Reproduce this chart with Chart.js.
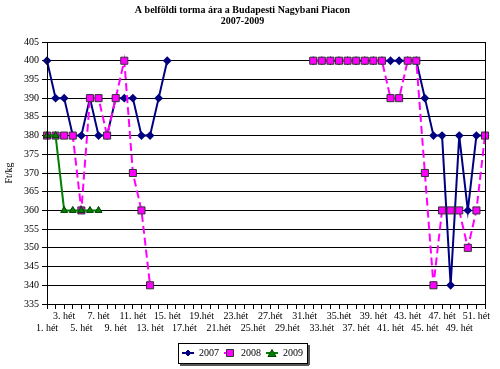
<!DOCTYPE html>
<html>
<head>
<meta charset="utf-8">
<title>Torma ára</title>
<script src="https://cdn.jsdelivr.net/npm/chart.js@4/dist/chart.umd.min.js"></script>
<style>
  html, body { margin: 0; padding: 0; background: #fff; }
  #wrap { width: 500px; height: 369px; }
</style>
</head>
<body>
<div id="wrap"><canvas id="tormaChart" width="500" height="369"></canvas></div>
<script>
// weeks 1..52 (labels as written in the original sheet)
const weeks = [
  "1. hét", "2. hét", "3. hét", "4. hét", "5. hét", "6. hét", "7. hét", "8. hét",
  "9. hét", "10. hét", "11. hét", "12. hét", "13. hét", "14. hét", "15. hét", "16.hét",
  "17.hét", "18.hét", "19.hét", "20.hét", "21.hét", "22.hét", "23.hét", "24.hét",
  "25.hét", "26.hét", "27.hét", "28.hét", "29.hét", "30.hét", "31.hét", "32.hét",
  "33.hét", "34.hét", "35.hét", "36.hét", "37. hét", "38. hét", "39. hét", "40. hét",
  "41. hét", "42. hét", "43. hét", "44. hét", "45. hét", "46. hét", "47. hét", "48. hét",
  "49. hét", "50. hét", "51. hét", "52. hét"
];

const price2007 = [
  400, 390, 390, 380, 380, 390, 380, 380, 390, 390, 390, 380, 380, 390, 400, null,
  null, null, null, null, null, null, null, null, null, null, null, null, null, null, null, 400,
  400, 400, 400, 400, 400, 400, 400, 400, 400, 400, 400, 400, 390, 380, 380, 340,
  380, 360, 380, 380
];

const price2008 = [
  380, 380, 380, 380, 360, 390, 390, 380, 390, 400, 370, 360, 340, null, null, null,
  null, null, null, null, null, null, null, null, null, null, null, null, null, null, null, 400,
  400, 400, 400, 400, 400, 400, 400, 400, 390, 390, 400, 400, 370, 340, 360, 360,
  360, 350, 360, 380
];

const price2009 = [
  380, 380, 360, 360, 360, 360, 360
];

const yMin = 335;
const yMax = 405;
const yStep = 5;

const SERIF = '"Liberation Serif", "Times New Roman", serif';
Chart.defaults.font.family = SERIF;
Chart.defaults.color = "#000";

// small legend glyph: line with the series marker in the middle
function legendSample(color, marker, dash, edge) {
  const c = document.createElement("canvas");
  c.width = 12;
  c.height = 10;
  const g = c.getContext("2d");
  g.strokeStyle = color;
  g.lineWidth = 2;
  g.setLineDash(dash);
  g.beginPath();
  g.moveTo(0, 5);
  g.lineTo(12, 5);
  g.stroke();
  g.setLineDash([]);
  g.fillStyle = color;
  g.strokeStyle = edge;
  g.lineWidth = 1;
  g.beginPath();
  if (marker === "diamond") {
    g.moveTo(6, 2); g.lineTo(9, 5); g.lineTo(6, 8); g.lineTo(3, 5);
  } else if (marker === "square") {
    g.rect(2.5, 1.5, 7, 7);
  } else {
    g.moveTo(6, 1.5); g.lineTo(10, 8.5); g.lineTo(2, 8.5);
  }
  g.closePath();
  g.fill();
  g.stroke();
  return c;
}

const samples = [
  legendSample("#000080", "diamond", [], "#000080"),
  legendSample("#FF00FF", "square", [4, 2], "#333333"),
  legendSample("#008000", "triangle", [], "#004000"),
];

// plot frame + legend box with a small drop shadow
const framePlugin = {
  id: "frame",
  afterDraw(chart) {
    const { ctx, chartArea: a, legend } = chart;
    ctx.save();
    ctx.strokeStyle = "#000";
    ctx.lineWidth = 1;
    ctx.strokeRect(Math.round(a.left) + 0.5, Math.round(a.top) + 0.5,
      Math.round(a.right - a.left), Math.round(a.bottom - a.top));

    const hb = legend.legendHitBoxes;
    if (hb && hb.length) {
      const l = Math.min(...hb.map(b => b.left)) - 4;
      const r = Math.max(...hb.map(b => b.left + b.width)) + 4;
      const t = Math.min(...hb.map(b => b.top)) - 5;
      const bt = Math.max(...hb.map(b => b.top + b.height)) + 5;
      ctx.fillStyle = "#555";
      ctx.fillRect(Math.round(l) + 2, Math.round(bt) + 1, Math.round(r - l), 2);
      ctx.fillRect(Math.round(r) + 1, Math.round(t) + 2, 2, Math.round(bt - t));
      ctx.strokeRect(Math.round(l) + 0.5, Math.round(t) + 0.5, Math.round(r - l), Math.round(bt - t));
    }
    ctx.restore();
  },
};

const ctx = document.getElementById("tormaChart");

new Chart(ctx, {
  type: "line",
  data: {
    labels: weeks,
    datasets: [
      {
        label: "2007",
        data: price2007,
        borderColor: "#000080",
        backgroundColor: "#000080",
        borderWidth: 2,
        pointStyle: "rectRot",
        pointRadius: 3,
        pointBorderColor: "#000080",
        pointBackgroundColor: "#000080",
        order: 3,
      },
      {
        label: "2008",
        data: price2008,
        borderColor: "#FF00FF",
        backgroundColor: "#FF00FF",
        borderWidth: 2,
        borderDash: [8, 4],
        pointStyle: "rect",
        pointRadius: 5,
        pointBorderWidth: 1,
        pointBorderColor: "#333333",
        pointBackgroundColor: "#FF00FF",
        order: 2,
      },
      {
        label: "2009",
        data: price2009,
        borderColor: "#008000",
        backgroundColor: "#008000",
        borderWidth: 2,
        pointStyle: "triangle",
        pointRadius: 4,
        pointBorderWidth: 1,
        pointBorderColor: "#004000",
        pointBackgroundColor: "#008000",
        order: 1,
      },
    ],
  },
  options: {
    responsive: false,
    animation: false,
    devicePixelRatio: 1,
    spanGaps: false,
    elements: { line: { tension: 0 } },
    layout: { padding: { left: 0, right: 15, top: 0, bottom: 1 } },
    plugins: {
      title: {
        display: true,
        text: ["A belföldi torma ára a Budapesti Nagybani Piacon", "2007-2009"],
        color: "#000",
        font: { family: SERIF, size: 10, weight: "bold", lineHeight: 1.1 },
        padding: { top: 5, bottom: 15 },
      },
      legend: {
        display: true,
        position: "bottom",
        labels: {
          color: "#000",
          font: { family: SERIF, size: 10 },
          usePointStyle: true,
          pointStyleWidth: 12,
          padding: 5,
          generateLabels(chart) {
            return chart.data.datasets.map((ds, i) => ({
              text: ds.label,
              pointStyle: samples[i],
              datasetIndex: i,
              hidden: false,
              lineWidth: 0,
              fontColor: "#000",
            }));
          },
        },
      },
      tooltip: { enabled: false },
    },
    scales: {
      x: {
        offset: false,
        grid: {
          display: true,
          drawOnChartArea: false,
          drawTicks: true,
          tickLength: 5,
          color: "#000",
        },
        border: { display: true, color: "#000" },
        ticks: {
          autoSkip: false,
          maxRotation: 0,
          minRotation: 0,
          padding: 1,
          color: "#000",
          font: { family: SERIF, size: 10 },
          callback: function (value, index) {
            const w = index + 1;
            if (w % 2 === 0) return "";
            const text = weeks[index];
            return w % 4 === 3 ? text : ["", text];
          },
        },
        afterFit(scale) {
          scale.height = 39;
        },
      },
      y: {
        min: yMin,
        max: yMax,
        ticks: {
          stepSize: yStep,
          color: "#000",
          font: { family: SERIF, size: 10 },
          padding: 3,
        },
        grid: {
          color: "#000",
          lineWidth: 1,
          drawTicks: true,
          tickLength: 5,
        },
        border: { display: true, color: "#000" },
        title: {
          display: true,
          text: "Ft/kg",
          color: "#000",
          font: { family: SERIF, size: 10 },
          padding: { top: 3, bottom: 0 },
        },
        afterFit(scale) {
          scale.width = 47;
        },
      },
    },
  },
  plugins: [framePlugin],
});
</script>
</body>
</html>
